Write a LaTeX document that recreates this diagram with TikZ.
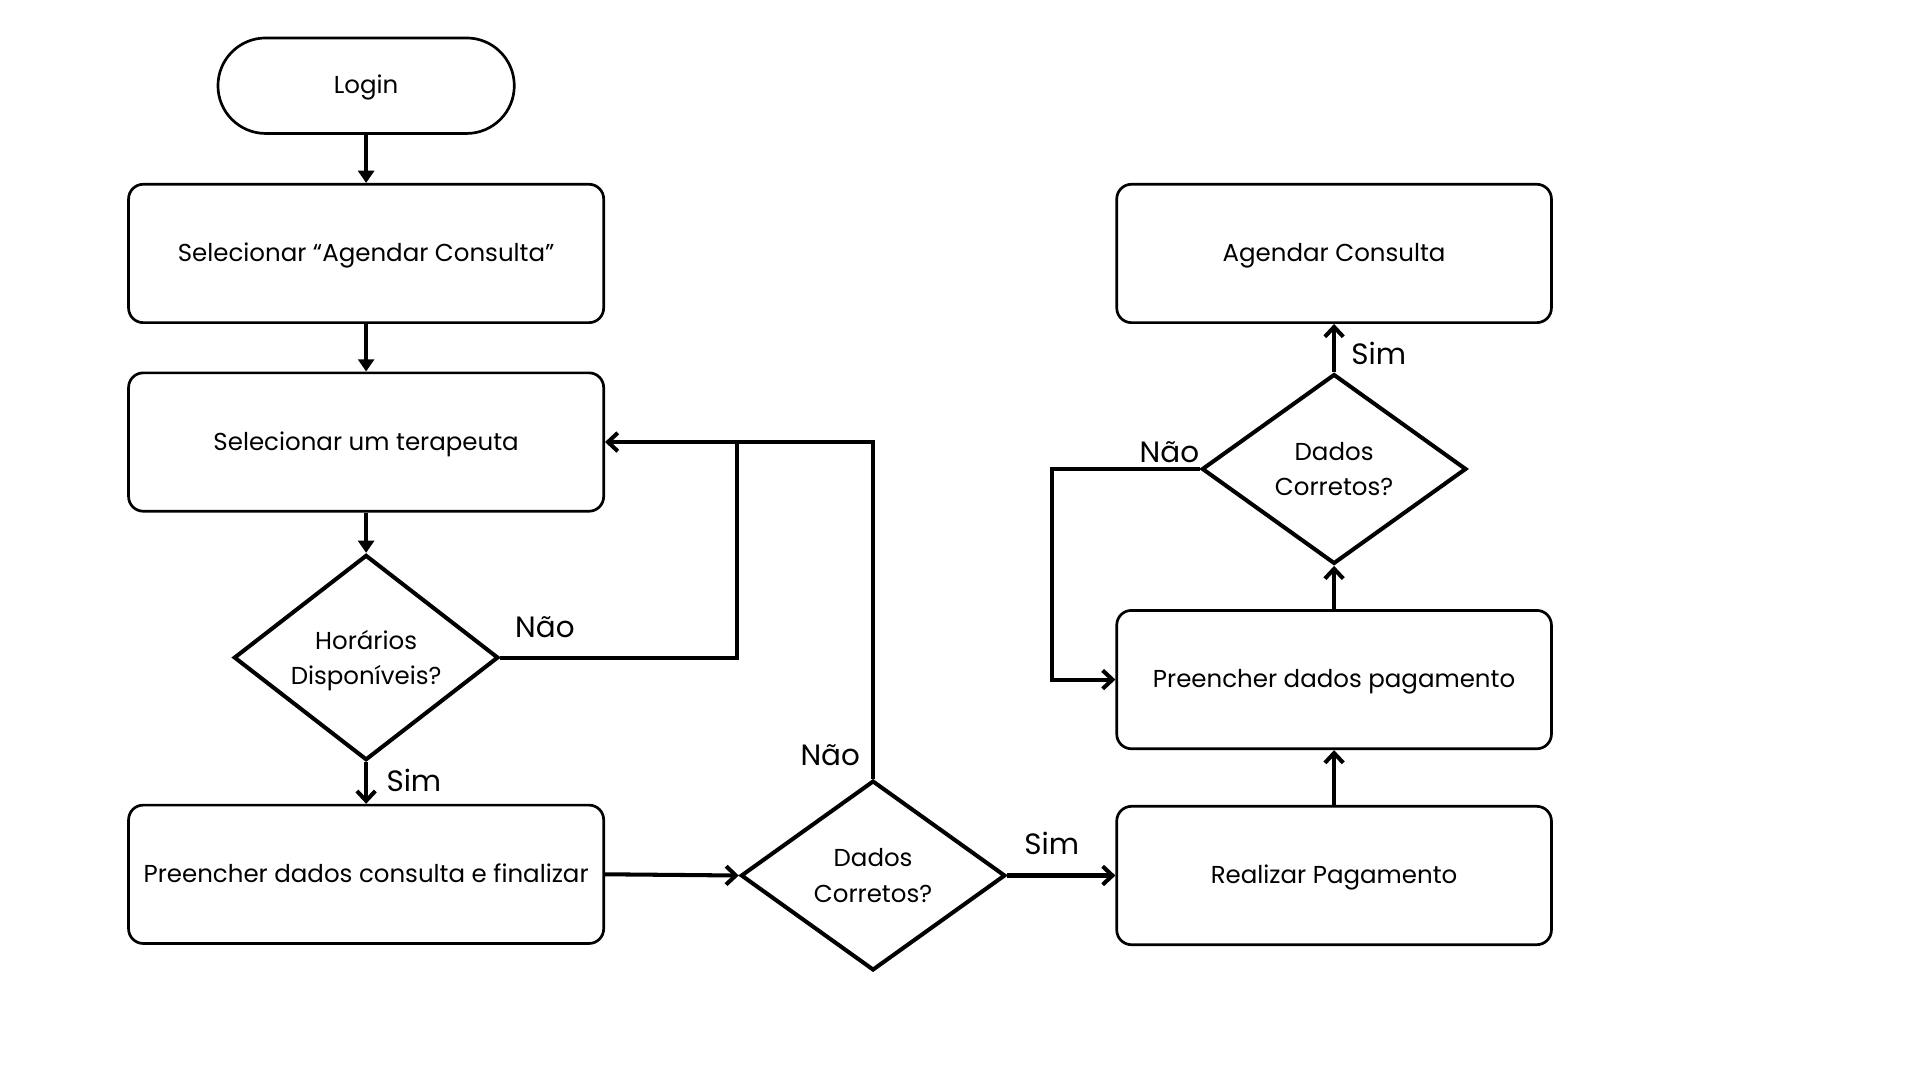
\documentclass[tikz,border=0pt]{standalone}
\usepackage{fontspec}
\setmainfont{Poppins}
\usetikzlibrary{shapes.geometric,arrows.meta}

\begin{document}
\begin{tikzpicture}[x=1pt, y=-1pt,
  caixa/.style={draw, line width=2.2pt, rounded corners=12pt, minimum width=388pt, minimum height=113pt, text height=1.45em, text depth=0.15em, font=\fontsize{20}{24}\selectfont},
  decisao/.style={draw, diamond, line width=3.3pt, minimum width=216pt, minimum height=155pt, inner sep=0pt, align=center, text depth=0pt, font=\fontsize{20}{29}\selectfont},
  rotulo/.style={font=\fontsize{24}{28}\selectfont},
  seta/.style={line width=3.3pt, -{Straight Barb[length=8pt, width=15pt]}},
  setacheia/.style={line width=3.3pt, -{Triangle[length=10pt, width=13pt]}}]
\useasboundingbox (0, 0) rectangle (1568, 882);
% coluna da esquerda
\node [caixa, rounded corners=39pt, minimum width=242pt, minimum height=78pt] (login) at (299, 70) {Login};
\node [caixa] (agendar) at (299, 207) {Selecionar “Agendar Consulta”};
\node [caixa] (terapeuta) at (299, 361) {Selecionar um terapeuta};
\node [decisao] (horarios) at (299, 537) {Horários\\ Disponíveis?};
\node [caixa] (consulta) at (299, 714) {Preencher dados consulta e finalizar};
% meio
\node [decisao] (dados1) at (713, 715) {Dados\\ Corretos?};
\coordinate (juncao) at (602, 361);
% coluna da direita
\node [caixa, minimum width=355pt] (pagamento) at (1089.5, 715) {Realizar Pagamento};
\node [caixa, minimum width=355pt] (preencher) at (1089.5, 555) {Preencher dados pagamento};
\node [decisao] (dados2) at (1089.5, 383) {Dados\\ Corretos?};
\node [caixa, minimum width=355pt] (agendado) at (1089.5, 207) {Agendar Consulta};
\coordinate (volta) at (859, 383);
% setas
\draw [setacheia] (login) -- (agendar);
\draw [setacheia] (agendar) -- (terapeuta);
\draw [setacheia] (terapeuta) -- (horarios);
\draw [seta] (horarios) -- (consulta);
\draw [line width=3.3pt] (horarios.east) -| (juncao);
\draw [seta] (dados1.north) |- (terapeuta.east);
\draw [seta] (consulta.east) -- (dados1.west);
\draw [seta] (dados1.east) -- (pagamento.west);
\draw [seta] (pagamento) -- (preencher);
\draw [seta] (preencher) -- (dados2);
\draw [seta] (dados2) -- (agendado);
\draw [seta] (dados2.west) -- (volta) |- (preencher.west);
% rotulos
\node [rotulo] (nao1) at (445, 512) {Não};
\node [rotulo] (sim1) at (338, 637) {Sim};
\node [rotulo] (nao2) at (678, 617) {Não};
\node [rotulo] (sim2) at (859, 689) {Sim};
\node [rotulo] (nao3) at (955, 369) {Não};
\node [rotulo] (sim3) at (1126, 289) {Sim};
\end{tikzpicture}
\end{document}
